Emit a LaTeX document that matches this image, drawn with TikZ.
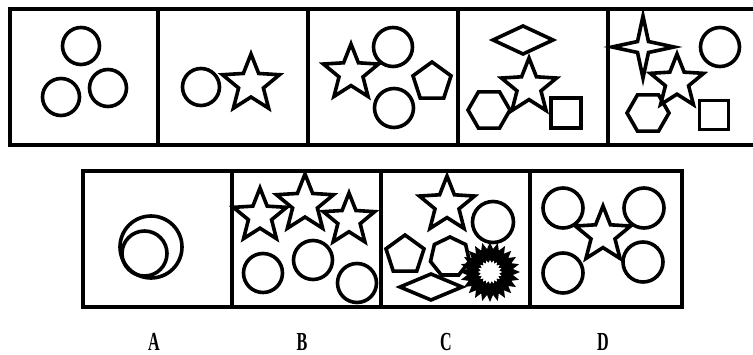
\documentclass[tikz,border=0pt]{standalone}
\usepackage[dvipsnames,svgnames]{xcolor}
\usepackage{fontspec}
\usepackage{tkz-euclide}
\usetikzlibrary{shapes.geometric,shapes.symbols}
\newfontfamily\lblfont{Liberation Serif}

\tikzset{
  frame/.style={line width=4pt},
  fig/.style={draw,line width=3.6pt,inner sep=0pt,outer sep=0pt},
  ring/.style={fig,circle,minimum size=#1},
  fstar/.style={fig,star,star points=5,star point ratio=2.3,minimum size=#1},
  cross/.style={fig,star,star points=4,star point ratio=4,minimum size=#1},
  poly/.style={fig,regular polygon,regular polygon sides=#1},
  rhomb/.style={fig,diamond},
  box/.style={fig,rectangle,minimum size=#1},
  letter/.style={inner sep=2pt,font=\lblfont\bfseries\fontsize{26}{26}\selectfont}
}
\newcommand\narrow[1]{\scalebox{.62}[1]{#1}}

\begin{document}
\begin{tikzpicture}[x=1pt,y=-1pt]
  \useasboundingbox (0,0) rectangle (753,355);
  % frames
  \tkzDefPoints{10/9/T0,753/9/T1,10/145/B0,753/145/B1}
  \draw[frame] (T1) -- (T0) -- (B0) -- (B1);
  \foreach \x in {158,308,458,608}
    \draw[frame] (\x,9) -- (\x,145);
  \tkzDefPoints{83/171/L0,682/307/L1}
  \draw[frame] (L0) rectangle (L1);
  \foreach \x in {232,381,530}
    \draw[frame] (\x,171) -- (\x,307);
  % row 1
  \tkzDefPoints{81/46/p1,61/97/p2,108/88/p3}
  \node[ring=37] (c11) at (p1) {};
  \node[ring=37] (c12) at (p2) {};
  \node[ring=37] (c13) at (p3) {};
  \tkzDefPoints{201/87/q1,251/84/q2}
  \node[ring=37] (c21) at (q1) {};
  \node[fstar=60] (s21) at (q2) {};
  \tkzDefPoints{351/73/r1,393/47/r2,394/108/r3,432/82/r4}
  \node[fstar=58] (s31) at (r1) {};
  \node[ring=39] (c31) at (r2) {};
  \node[ring=39] (c32) at (r3) {};
  \node[poly=5,minimum size=40] (g31) at (r4) {};
  \tkzDefPoints{523/40/u1,529/87/u2,489/110/u3,566/113/u4}
  \node[rhomb,minimum width=60,minimum height=28] (d41) at (u1) {};
  \node[fstar=58] (s41) at (u2) {};
  \node[poly=6,minimum size=42] (h41) at (u3) {};
  \node[box=30] (b41) at (u4) {};
  \tkzDefPoints{643/47/v1,720/47/v2,677/82/v3,648/113/v4,714/115/v5}
  \node[cross=62] (x51) at (v1) {};
  \node[ring=39] (c51) at (v2) {};
  \node[fstar=56] (s51) at (v3) {};
  \node[poly=6,minimum size=42] (h51) at (v4) {};
  \node[box=29] (b51) at (v5) {};
  % row 2
  \tkzDefPoints{151/247/a1,144.5/253.5/a2}
  \node[ring=62] (cA1) at (a1) {};
  \node[ring=45] (cA2) at (a2) {};
  \tkzDefPoints{260/216/b1,305/204/b2,349/220/b3,263/273/b4,313/260/b5,357/283/b6}
  \node[fstar=56] (sB1) at (b1) {};
  \node[fstar=60] (sB2) at (b2) {};
  \node[fstar=54] (sB3) at (b3) {};
  \node[ring=39] (cB1) at (b4) {};
  \node[ring=39] (cB2) at (b5) {};
  \node[ring=39] (cB3) at (b6) {};
  \tkzDefPoints{447/205/e1,493/222/e2,405/255/e3,450/257/e4,431/287/e5,490/272/e6}
  \node[fstar=58] (sC1) at (e1) {};
  \node[ring=41] (cC1) at (e2) {};
  \node[poly=5,minimum size=40] (gC1) at (e3) {};
  \node[poly=7,minimum size=40] (gC2) at (e4) {};
  \node[rhomb,minimum width=62,minimum height=26] (dC1) at (e5) {};
  \node[star,star points=24,star point ratio=1.3,fill=black,inner sep=0pt,minimum size=60] (zC1) at (e6) {};
  \node[star,star points=20,star point ratio=1.3,fill=white,inner sep=0pt,minimum size=24] (zC2) at (e6) {};
  \tkzDefPoints{563/208/f1,644/208/f2,563/273/f3,643/262/f4,603/235/f5}
  \node[ring=40] (cD1) at (f1) {};
  \node[ring=40] (cD2) at (f2) {};
  \node[ring=40] (cD3) at (f3) {};
  \node[ring=40] (cD4) at (f4) {};
  \node[fstar=58] (sD1) at (f5) {};
  % labels
  \node[letter] (lA) at (154,342) {\narrow{A}};
  \node[letter] (lB) at (302,342) {\narrow{B}};
  \node[letter] (lC) at (446,342) {\narrow{C}};
  \node[letter] (lD) at (603,342) {\narrow{D}};
\end{tikzpicture}
\end{document}
